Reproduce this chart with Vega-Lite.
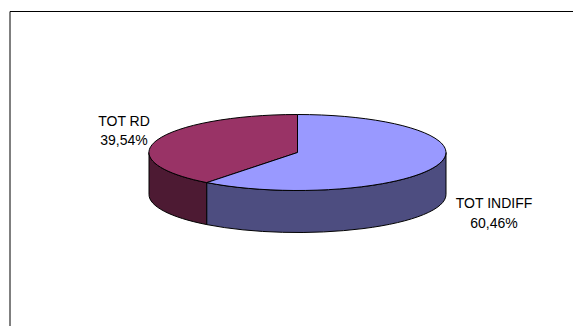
{
  "$schema": "https://vega.github.io/schema/vega-lite/v6.json",
  "width": 570,
  "height": 330,
  "autosize": {"type": "none"},
  "padding": {"left": 9.5, "top": 11, "right": -6.5, "bottom": -15},
  "background": "white",
  "view": {"stroke": "#000000", "strokeWidth": 1, "fill": "white"},
  "data": {
    "values": [
      {"category": "TOT RD", "value": 39.54, "label": "TOT RD\n39,54%"},
      {"category": "TOT INDIFF", "value": 60.46, "label": "TOT INDIFF\n60,46%"}
    ]
  },
  "layer": [
    {
      "mark": {"type": "point", "filled": true, "opacity": 1, "size": 40000, "stroke": "#000000", "strokeWidth": 1, "xOffset": 3, "yOffset": -23.5},
      "encoding": {
        "shape": {
          "field": "category", "type": "nominal", "legend": null,
          "scale": {
            "domain": ["TOT RD", "TOT INDIFF"],
            "range": [
              "M-1.485,0 A1.485,0.38 0 0 0 -0.907,0.301 L-0.907,0.721 A1.485,0.38 0 0 1 -1.485,0.42 Z",
              "M-0.907,0.301 A1.485,0.38 0 0 0 1.485,0 L1.485,0.42 A1.485,0.38 0 0 1 -0.907,0.721 Z"
            ]
          }
        },
        "color": {
          "field": "category", "type": "nominal", "legend": null,
          "scale": {"domain": ["TOT RD", "TOT INDIFF"], "range": ["#4D1A33", "#4D4D80"]}
        }
      }
    },
    {
      "mark": {"type": "point", "filled": true, "opacity": 1, "size": 40000, "stroke": "#000000", "strokeWidth": 1, "xOffset": 3, "yOffset": -23.5},
      "encoding": {
        "shape": {
          "field": "category", "type": "nominal", "legend": null,
          "scale": {
            "domain": ["TOT RD", "TOT INDIFF"],
            "range": [
              "M0,0 L0,-0.38 A1.485,0.38 0 0 0 -0.907,0.301 Z",
              "M0,0 L0,-0.38 A1.485,0.38 0 1 1 -0.907,0.301 Z"
            ]
          }
        },
        "color": {
          "field": "category", "type": "nominal", "legend": null,
          "scale": {"domain": ["TOT RD", "TOT INDIFF"], "range": ["#993366", "#9999FF"]}
        }
      }
    },
    {
      "mark": {"type": "text", "font": "Liberation Sans", "fontSize": 14, "lineBreak": "\n", "lineHeight": 19.5, "align": "center", "baseline": "middle", "color": "#000000", "radius": 189.5, "xOffset": 14.5, "yOffset": -13},
      "encoding": {
        "theta": {"field": "value", "type": "quantitative", "stack": true, "scale": {"range": [-0.11, 6.1732]}},
        "order": {"field": "value", "type": "quantitative", "sort": "descending"},
        "text": {"field": "label", "type": "nominal"}
      }
    }
  ],
  "resolve": {"scale": {"color": "independent", "shape": "independent"}}
}
